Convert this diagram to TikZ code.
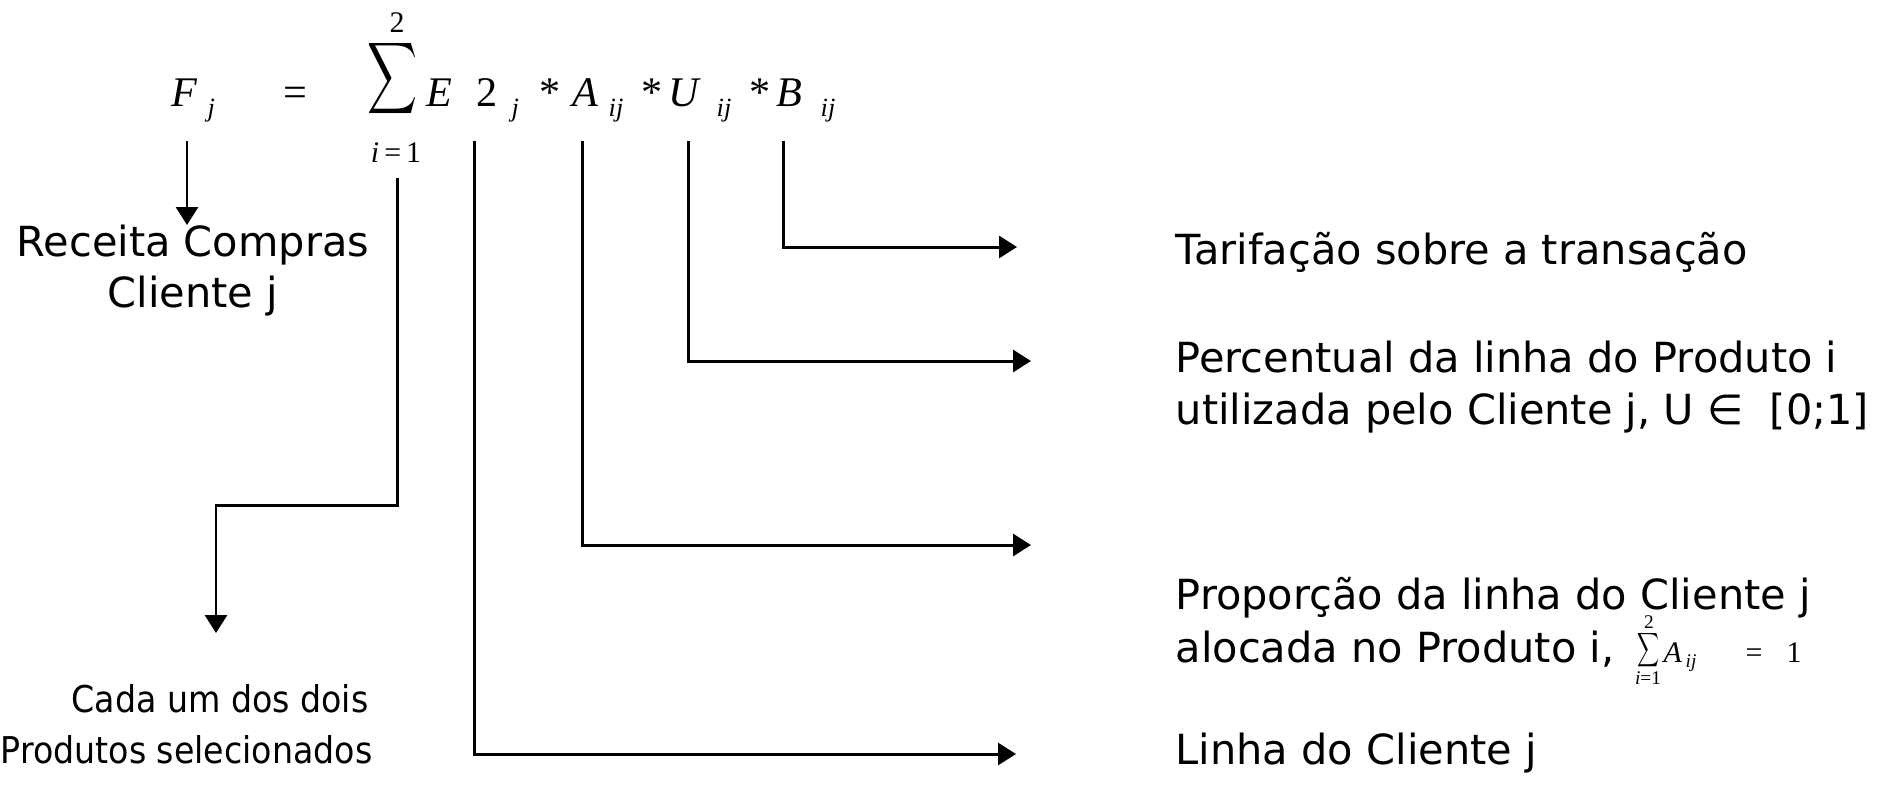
\documentclass[tikz,border=0pt]{standalone}
\usepackage{fontspec}
\usepackage{graphicx}
\setmainfont{DejaVu Sans}
\newfontfamily\tms{Liberation Serif}
\usetikzlibrary{arrows.meta}
% texto um pouco mais estreito (legenda de baixo)
\newcommand{\estreito}[1]{\scalebox{0.9}[1]{#1}}

\begin{document}
\begin{tikzpicture}[
    % uma unidade = um pixel da figura, eixo y para baixo
    x={(0.01cm,0cm)},
    y={(0cm,-0.01cm)},
    >={Triangle[length=0.18cm,width=0.22cm]},
    line join=miter,
    lig/.style={line width=0.85pt},
    rot/.style={inner sep=0pt,anchor=base west,font=\fontsize{11.8}{14}\selectfont},
    rotc/.style={rot,anchor=base},
    rotp/.style={rot,anchor=base east,font=\fontsize{10.5}{13}\selectfont},
    var/.style={inner sep=0pt,anchor=base west,font=\tms\itshape\fontsize{12}{14}\selectfont},
    num/.style={var,font=\tms\fontsize{12}{14}\selectfont},
    ind/.style={inner sep=0pt,anchor=base west,font=\tms\itshape\fontsize{7.5}{9}\selectfont},
    lim/.style={inner sep=0pt,anchor=base,font=\tms\fontsize{8.5}{10}\selectfont},
    var2/.style={var,font=\tms\itshape\fontsize{8.5}{10}\selectfont},
    num2/.style={var,font=\tms\fontsize{8.5}{10}\selectfont},
    ind2/.style={ind,font=\tms\itshape\fontsize{5.5}{7}\selectfont},
    lim2/.style={lim,font=\tms\fontsize{5.5}{7}\selectfont},
  ]

  \useasboundingbox (0,0) rectangle (1888,790);

  % a fórmula
  \node[var] (F) at (171,106) {F};
  \node[ind] (Fj) at (207,116) {j};
  \node[num,anchor=base] (igual) at (295,106) {=};
  \node[inner sep=0pt] (soma) at (393,79) {\resizebox*{0.5cm}{0.8cm}{$\displaystyle\sum$}};
  \node[lim] (somasup) at (397,32) {2};
  \node[lim] (somainf) at (396,162) {{\itshape i}\,=\,1};
  \node[var] (E) at (426,106) {E};
  \node[num] (dois) at (476,106) {2};
  \node[ind] (Ej) at (511,116) {j};
  \node[num] (vez1) at (539,106) {*};
  \node[var] (A) at (572,106) {A};
  \node[ind] (Aij) at (608,116) {ij};
  \node[num] (vez2) at (641,106) {*};
  \node[var] (U) at (668,106) {U};
  \node[ind] (Uij) at (716,116) {ij};
  \node[num] (vez3) at (749,106) {*};
  \node[var] (B) at (776,106) {B};
  \node[ind] (Bij) at (820,116) {ij};

  % pontos das linhas de chamada
  \coordinate (F0) at (187,141);
  \coordinate (F1) at (187,225);
  \coordinate (S0) at (397,178);
  \coordinate (S1) at (216,505);
  \coordinate (S2) at (216,633);
  \coordinate (E0) at (474,141);
  \coordinate (E1) at (1016,754);
  \coordinate (A0) at (582,141);
  \coordinate (A1) at (1031,545);
  \coordinate (U0) at (688,141);
  \coordinate (U1) at (1031,361);
  \coordinate (B0) at (783,141);
  \coordinate (B1) at (1017,247);

  % linhas de chamada
  \draw[lig,->] (F0) -- (F1);
  \draw[lig,->] (S0) |- (S1) -- (S2);
  \draw[lig,->] (E0) |- (E1);
  \draw[lig,->] (A0) |- (A1);
  \draw[lig,->] (U0) |- (U1);
  \draw[lig,->] (B0) |- (B1);

  % textos da esquerda
  \node[rotc] (rec1) at (193,256) {Receita Compras};
  \node[rotc] (rec2) at (193,307) {Cliente j};
  \node[rotp] (cad1) at (369,712) {\estreito{Cada um dos dois}};
  \node[rotp] (cad2) at (373,763) {\estreito{Produtos selecionados}};

  % textos da direita
  \node[rot] (tar) at (1175,264) {Tarifação sobre a transação};
  \node[rot] (per1) at (1175,372) {Percentual da linha do Produto i};
  \node[rot] (per2) at (1175,424) {utilizada pelo Cliente j, U ∈\ \ [0;1]};
  \node[rot] (pro1) at (1175,609) {Proporção da linha do Cliente j};
  \node[rot] (pro2) at (1175,662) {alocada no Produto i,};
  \node[rot] (lin) at (1175,764) {Linha do Cliente j};

  % somatório pequeno
  \node[inner sep=0pt] (soma2) at (1648,650) {\resizebox*{0.22cm}{0.38cm}{$\displaystyle\sum$}};
  \node[lim2] (soma2sup) at (1649,628) {2};
  \node[lim2] (soma2inf) at (1648,684) {{\itshape i}=1};
  \node[var2] (A2) at (1663,662) {A};
  \node[ind2] (A2ij) at (1685,667) {ij};
  \node[num2] (igual2) at (1745,662) {=};
  \node[num2] (um) at (1786,662) {1};
\end{tikzpicture}
\end{document}
